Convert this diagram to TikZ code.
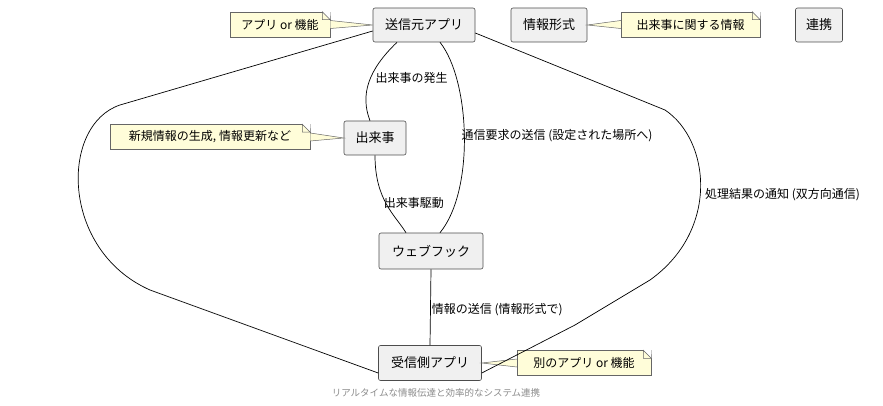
\documentclass[tikz,border=0pt]{standalone}
\usepackage{fontspec}
\setmainfont{Noto Sans CJK JP}
\begin{document}
\begin{tikzpicture}[x=1pt,y=-1pt,
 box/.style={draw=black!70,fill=black!6,rounded corners=2pt,line width=0.6pt,minimum height=34pt,inner xsep=10pt,font=\fontsize{13}{15}\selectfont},
 note/.style={draw=black!60,fill=yellow!15,line width=0.5pt,font=\fontsize{12}{14}\selectfont,minimum height=25pt,inner xsep=7pt},
 lab/.style={font=\fontsize{12}{14}\selectfont,anchor=west,inner sep=1pt},
 ptr/.style={draw=black!60,fill=yellow!15,line width=0.5pt},
 edge/.style={line width=0.7pt}]
\useasboundingbox (0,0) rectangle (883,406);
\node[box,minimum width=102pt] (src) at (424,25) {送信元アプリ};
\node[box,minimum width=76pt] (fmt) at (549,25) {情報形式};
\node[box,minimum width=47pt] (ren) at (819,25) {連携};
\node[box,minimum width=62pt] (ev) at (375,138) {出来事};
\node[box,minimum width=104pt,minimum height=36pt] (wh) at (431,251) {ウェブフック};
\node[box,minimum width=103pt,minimum height=35pt] (dst) at (430,363) {受信側アプリ};
% notes
\node[note,minimum width=100pt] (n1) at (280,24.5) {アプリ or 機能};
\node[note,minimum width=139pt] (n2) at (690.5,24.5) {出来事に関する情報};
\node[note,minimum width=200pt] (n3) at (210,137) {新規情報の生成, 情報更新など};
\node[note,minimum width=134pt] (n4) at (584,363) {別のアプリ or 機能};
\foreach \n in {n1,n2,n3,n4} {
 \fill[white] ([xshift=-8pt]\n.north east) -- ([xshift=0.5pt,yshift=0.5pt]\n.north east) -- ([yshift=-8pt]\n.north east) -- cycle;
 \draw[black!60,line width=0.5pt] ([xshift=-8pt]\n.north east) -- ([xshift=-8pt,yshift=-8pt]\n.north east) -- ([yshift=-8pt]\n.north east) -- cycle;
}
% pointers
\draw[ptr] ([yshift=4pt]n1.east) -- (src.west) -- ([yshift=-4pt]n1.east);
\draw[ptr] ([yshift=4pt]n2.west) -- (fmt.east) -- ([yshift=-4pt]n2.west);
\draw[ptr] ([yshift=4pt]n3.east) -- (ev.west) -- ([yshift=-4pt]n3.east);
\draw[ptr] ([yshift=4pt]n4.west) -- (dst.east) -- ([yshift=-4pt]n4.west);
% edges
\draw[edge] ([xshift=-27pt]src.south) .. controls (368,70) and (360,95) .. ([xshift=-5pt]ev.north) node[lab,pos=0.45,xshift=4pt] {出来事の発生};
\draw[edge] ([xshift=16pt]src.south) .. controls (470,80) and (475,190) .. ([xshift=9pt]wh.north) node[lab,pos=0.5,xshift=-4pt] {通信要求の送信 (設定された場所へ)};
\draw[edge] ([xshift=0pt]ev.south) .. controls (375,200) and (395,215) .. ([xshift=-25pt]wh.north) node[lab,pos=0.48,xshift=-3pt] {出来事駆動};
\draw[edge] (wh.south) -- (dst.north) node[lab,midway,yshift=-2pt] {情報の送信 (情報形式で)};
\draw[edge] ([yshift=-6pt]src.west) -- (120,105) .. controls (60,125) and (60,250) .. (150,290) -- ([yshift=-10pt]dst.west);
\draw[edge] ([yshift=-8pt]src.east) -- (665,110) .. controls (710,140) and (720,230) .. (650,280) -- (575,325) -- ([yshift=-10pt]dst.east);
\node[lab] at (704,195) {処理結果の通知 (双方向通信)};
\node[font=\fontsize{9.5}{11}\selectfont,text=black!45] (cap) at (436,393) {リアルタイムな情報伝達と効率的なシステム連携};
\end{tikzpicture}
\end{document}
